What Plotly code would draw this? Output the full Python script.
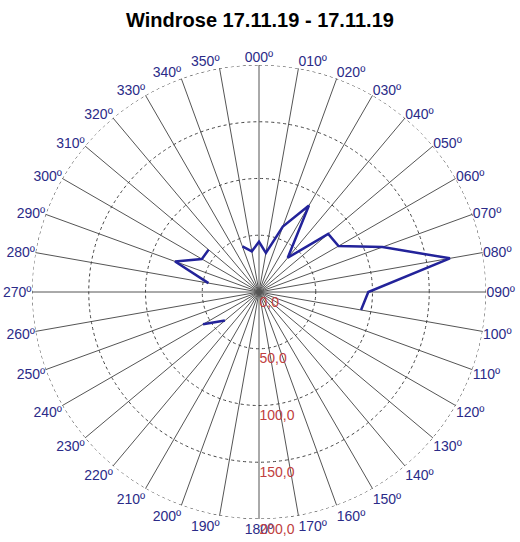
import plotly.graph_objects as go

# Wind direction (degrees) and value; None marks gaps in the trace
directions = [340, 350, 0, 10, 20, 30, 40, 50, 60, 70, 80, 90, 100,
              110, 230, 240, 250, 280, 290, 300, 310, 320]
values = [42.7, 36.4, 44.3, 35.0, 61.4, 88.0, 39.4, 79.6, 80.9, 115.8, 170.8, 96.3, 91.3,
          None, 39.2, 57.0, None, 45.2, 78.7, 58.1, 58.0, None]

angle_ticks = list(range(0, 360, 10))
angle_labels = [f"{a:03d}º" for a in angle_ticks]
radial_ticks = [0, 50, 100, 150, 200]
radial_labels = ["0,0", "50,0", "100,0", "150,0", "200,0"]

outer_theta = list(range(0, 361, 2))
outer_r = [200] * len(outer_theta)

fig = go.Figure()
fig.add_trace(go.Scatterpolar(
    r=outer_r, theta=outer_theta, mode="lines",
    line=dict(color="#444444", width=1, dash="dot"),
    hoverinfo="skip", showlegend=False))
fig.add_trace(go.Scatterpolar(
    r=values, theta=directions, mode="lines",
    line=dict(color="#23239a", width=2.5),
    connectgaps=False, showlegend=False))

fig.update_layout(
    width=520, height=542,
    paper_bgcolor="white",
    margin=dict(l=32, r=34, t=65, b=23),
    title=dict(text="<b>Windrose 17.11.19 - 17.11.19</b>",
               x=0.5, xanchor="center", y=0.963, yanchor="middle",
               font=dict(family="Arial, Liberation Sans", size=20, color="black")),
    polar=dict(
        bgcolor="white",
        angularaxis=dict(
            rotation=90, direction="clockwise",
            tickmode="array", tickvals=angle_ticks, ticktext=angle_labels,
            tickfont=dict(family="Arial, Liberation Sans", size=14, color="#2b2b88"),
            showgrid=True, gridcolor="#555555", gridwidth=1,
            showline=False, ticks=""),
        radialaxis=dict(
            range=[0, 200], angle=-90, tickangle=-90, side="counterclockwise",
            tickmode="array", tickvals=radial_ticks, ticktext=radial_labels,
            tickfont=dict(family="Arial, Liberation Sans", size=14, color="#c04040"),
            showgrid=True, gridcolor="#444444", griddash="dot", gridwidth=1,
            showline=False, ticks=""),
    ),
)

post = """
document.body.style.margin='0';
document.querySelectorAll('.radial-axis text').forEach(function(t){
  var tr = t.getAttribute('transform') || '';
  t.setAttribute('transform', 'translate(10,0) ' + tr);
});
"""

fig.write_html("out.html", config={"displayModeBar": False}, post_script=post)
